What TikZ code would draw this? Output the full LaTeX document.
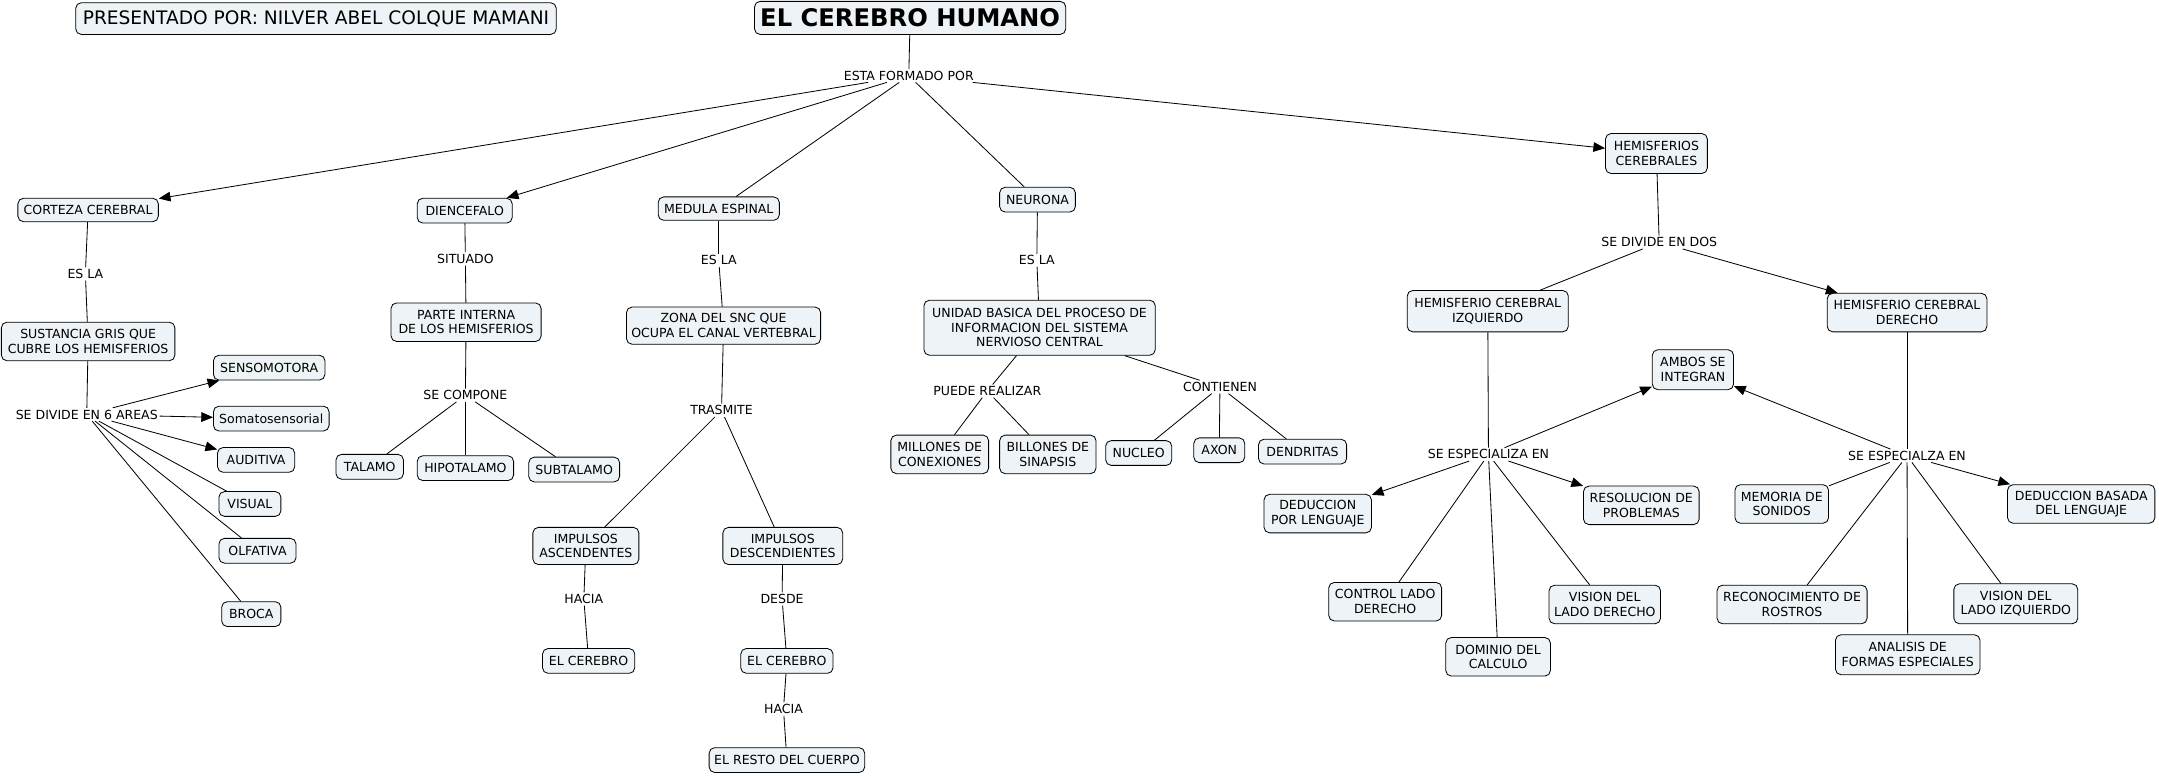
\documentclass[tikz,border=0pt]{standalone}
\usepackage{fontspec}
\usetikzlibrary{arrows.meta}
\newfontfamily\dv{DejaVu Sans}
\newcommand\cf{\dv\fontsize{9.1}{10.6}\selectfont}
\definecolor{cfill}{RGB}{237,243,246}
\tikzset{
  concept/.style={draw=black, line width=0.6pt, rounded corners=4pt, fill=cfill, font=\cf, align=center, inner sep=1pt},
  lab/.style={font=\cf, inner sep=1.2pt},
  con/.style={draw=black, line width=0.6pt},
  arr/.style={con, -{Triangle[length=8.5pt,width=7pt]}}
}
\begin{document}
\begin{tikzpicture}[x=1pt,y=-1pt]
\useasboundingbox[fill=white] (0,0) rectangle (1568,563);
% header
\node[concept, minimum width=349pt, minimum height=23pt, font=\dv\fontsize{13.5}{15}\selectfont] (pres) at (229.5,13.5) {PRESENTADO POR: NILVER ABEL COLQUE MAMANI};
\node[concept, minimum width=226pt, minimum height=24pt, font=\dv\bfseries\fontsize{17.6}{19}\selectfont] (title) at (661,13) {EL CEREBRO HUMANO};
\node[lab] (formado) at (660,55) {ESTA FORMADO POR};
% corteza
\node[concept, minimum width=102pt, minimum height=17pt] (corteza) at (64,152.5) {CORTEZA CEREBRAL};
\node[lab] (esla1) at (62,199) {ES LA};
\node[concept, minimum width=126pt, minimum height=28pt] (sustancia) at (64,248) {SUSTANCIA GRIS QUE\\CUBRE LOS HEMISFERIOS};
\node[lab] (sedivseis) at (63,301) {SE DIVIDE EN 6 AREAS};
\node[concept, minimum width=81pt, minimum height=18pt] (senso) at (195.5,267) {SENSOMOTORA};
\node[concept, minimum width=84pt, minimum height=18pt] (somato) at (197,304) {Somatosensorial};
\node[concept, minimum width=56pt, minimum height=18pt] (auditiva) at (186,334) {AUDITIVA};
\node[concept, minimum width=45pt, minimum height=18pt] (visual) at (181.5,366) {VISUAL};
\node[concept, minimum width=56pt, minimum height=18pt] (olfativa) at (187,400) {OLFATIVA};
\node[concept, minimum width=43pt, minimum height=18pt] (broca) at (182.5,446) {BROCA};
% diencefalo
\node[concept, minimum width=69pt, minimum height=18pt] (dience) at (337.5,153) {DIENCEFALO};
\node[lab] (situado) at (338,188) {SITUADO};
\node[concept, minimum width=109pt, minimum height=28pt] (parte) at (338.5,234) {PARTE INTERNA\\DE LOS HEMISFERIOS};
\node[lab] (secompone) at (338,287) {SE COMPONE};
\node[concept, minimum width=49pt, minimum height=18pt] (talamo) at (268.5,339) {TALAMO};
\node[concept, minimum width=70pt, minimum height=18pt] (hipo) at (338,340) {HIPOTALAMO};
\node[concept, minimum width=66pt, minimum height=18pt] (subt) at (417,341) {SUBTALAMO};
% medula
\node[concept, minimum width=88pt, minimum height=17pt] (medula) at (522,151.5) {MEDULA ESPINAL};
\node[lab] (esla2) at (522,189) {ES LA};
\node[concept, minimum width=141pt, minimum height=27pt] (zona) at (525.5,236.5) {ZONA DEL SNC QUE\\OCUPA EL CANAL VERTEBRAL};
\node[lab] (trasmite) at (524,298) {TRASMITE};
\node[concept, minimum width=77pt, minimum height=27pt] (asc) at (425.5,396.5) {IMPULSOS\\ASCENDENTES};
\node[concept, minimum width=87pt, minimum height=27pt] (desc) at (568.5,396.5) {IMPULSOS\\DESCENDIENTES};
\node[lab] (hacia1) at (424,435) {HACIA};
\node[concept, minimum width=67pt, minimum height=18pt] (cer1) at (427.5,480) {EL CEREBRO};
\node[lab] (desde) at (568,435) {DESDE};
\node[concept, minimum width=67pt, minimum height=18pt] (cer2) at (571.5,480) {EL CEREBRO};
\node[lab] (hacia2) at (569,515) {HACIA};
\node[concept, minimum width=113pt, minimum height=18pt] (resto) at (571.5,552) {EL RESTO DEL CUERPO};
% neurona
\node[concept, minimum width=55pt, minimum height=18pt] (neurona) at (753.5,145) {NEURONA};
\node[lab] (esla3) at (753,189) {ES LA};
\node[concept, minimum width=168pt, minimum height=40pt] (unidad) at (755,238) {UNIDAD BASICA DEL PROCESO DE\\INFORMACION DEL SISTEMA\\NERVIOSO CENTRAL};
\node[lab] (puede) at (717,284) {PUEDE REALIZAR};
\node[lab] (contienen) at (886,281) {CONTIENEN};
\node[concept, minimum width=71pt, minimum height=28pt] (millones) at (682.5,330) {MILLONES DE\\CONEXIONES};
\node[concept, minimum width=70pt, minimum height=28pt] (billones) at (761,330) {BILLONES DE\\SINAPSIS};
\node[concept, minimum width=48pt, minimum height=18pt] (nucleo) at (827,329) {NUCLEO};
\node[concept, minimum width=37pt, minimum height=18pt] (axon) at (885.5,327) {AXON};
\node[concept, minimum width=64pt, minimum height=18pt] (dendritas) at (946,328) {DENDRITAS};
% hemisferios
\node[concept, minimum width=74pt, minimum height=29pt] (hemis) at (1203,111.5) {HEMISFERIOS\\CEREBRALES};
\node[lab] (sedivdos) at (1205,176) {SE DIVIDE EN DOS};
\node[concept, minimum width=117pt, minimum height=30pt] (izq) at (1080.5,226) {HEMISFERIO CEREBRAL\\IZQUIERDO};
\node[concept, minimum width=116pt, minimum height=28pt] (der) at (1385,227) {HEMISFERIO CEREBRAL\\DERECHO};
\node[concept, minimum width=59pt, minimum height=29pt] (ambos) at (1229.5,268.5) {AMBOS SE\\INTEGRAN};
\node[lab] (seesp1) at (1081,330) {SE ESPECIALIZA EN};
\node[lab] (seesp2) at (1385,331) {SE ESPECIALZA EN};
\node[concept, minimum width=78pt, minimum height=28pt] (dedlen) at (957,373) {DEDUCCION\\POR LENGUAJE};
\node[concept, minimum width=84pt, minimum height=28pt] (resol) at (1192,367) {RESOLUCION DE\\PROBLEMAS};
\node[concept, minimum width=82pt, minimum height=28pt] (control) at (1006,437) {CONTROL LADO\\DERECHO};
\node[concept, minimum width=81pt, minimum height=28pt] (visder) at (1165.5,439) {VISION DEL\\LADO DERECHO};
\node[concept, minimum width=76pt, minimum height=28pt] (dominio) at (1088,477) {DOMINIO DEL\\CALCULO};
\node[concept, minimum width=68pt, minimum height=28pt] (memoria) at (1294,366) {MEMORIA DE\\SONIDOS};
\node[concept, minimum width=107pt, minimum height=28pt] (dedbas) at (1511.5,366) {DEDUCCION BASADA\\DEL LENGUAJE};
\node[concept, minimum width=109pt, minimum height=28pt] (recon) at (1301.5,439) {RECONOCIMIENTO DE\\ROSTROS};
\node[concept, minimum width=90pt, minimum height=29pt] (visizq) at (1464,438.5) {VISION DEL\\LADO IZQUIERDO};
\node[concept, minimum width=105pt, minimum height=29pt] (analisis) at (1385.5,475.5) {ANALISIS DE\\FORMAS ESPECIALES};
% connectors
\draw[con] (title) -- (formado);
\draw[arr] (formado) -- (corteza);
\draw[arr] (formado) -- (dience);
\draw[con] (formado) -- (medula);
\draw[con] (formado) -- (neurona);
\draw[arr] (formado) -- (hemis);
\draw[con] (corteza) -- (esla1);
\draw[con] (esla1) -- (sustancia);
\draw[con] (sustancia) -- (sedivseis);
\draw[arr] (sedivseis) -- (senso);
\draw[arr] (sedivseis) -- (somato);
\draw[arr] (sedivseis) -- (auditiva);
\draw[con] (sedivseis) -- (visual);
\draw[con] (sedivseis) -- (olfativa);
\draw[con] (sedivseis) -- (broca);
\draw[con] (dience) -- (situado);
\draw[con] (situado) -- (parte);
\draw[con] (parte) -- (secompone);
\draw[con] (secompone) -- (talamo);
\draw[con] (secompone) -- (hipo);
\draw[con] (secompone) -- (subt);
\draw[con] (medula) -- (esla2);
\draw[con] (esla2) -- (zona);
\draw[con] (zona) -- (trasmite);
\draw[con] (trasmite) -- (asc);
\draw[con] (trasmite) -- (desc);
\draw[con] (asc) -- (hacia1);
\draw[con] (hacia1) -- (cer1);
\draw[con] (desc) -- (desde);
\draw[con] (desde) -- (cer2);
\draw[con] (cer2) -- (hacia2);
\draw[con] (hacia2) -- (resto);
\draw[con] (neurona) -- (esla3);
\draw[con] (esla3) -- (unidad);
\draw[con] (unidad) -- (puede);
\draw[con] (puede) -- (millones);
\draw[con] (puede) -- (billones);
\draw[con] (unidad) -- (contienen);
\draw[con] (contienen) -- (nucleo);
\draw[con] (contienen) -- (axon);
\draw[con] (contienen) -- (dendritas);
\draw[con] (hemis) -- (sedivdos);
\draw[con] (sedivdos) -- (izq);
\draw[arr] (sedivdos) -- (der);
\draw[con] (izq) -- (seesp1);
\draw[arr] (seesp1) -- (ambos);
\draw[arr] (seesp1) -- (dedlen);
\draw[arr] (seesp1) -- (resol);
\draw[con] (seesp1) -- (control);
\draw[con] (seesp1) -- (dominio);
\draw[con] (seesp1) -- (visder);
\draw[con] (der) -- (seesp2);
\draw[arr] (seesp2) -- (ambos);
\draw[con] (seesp2) -- (memoria);
\draw[arr] (seesp2) -- (dedbas);
\draw[con] (seesp2) -- (recon);
\draw[con] (seesp2) -- (analisis);
\draw[con] (seesp2) -- (visizq);
\end{tikzpicture}
\end{document}
